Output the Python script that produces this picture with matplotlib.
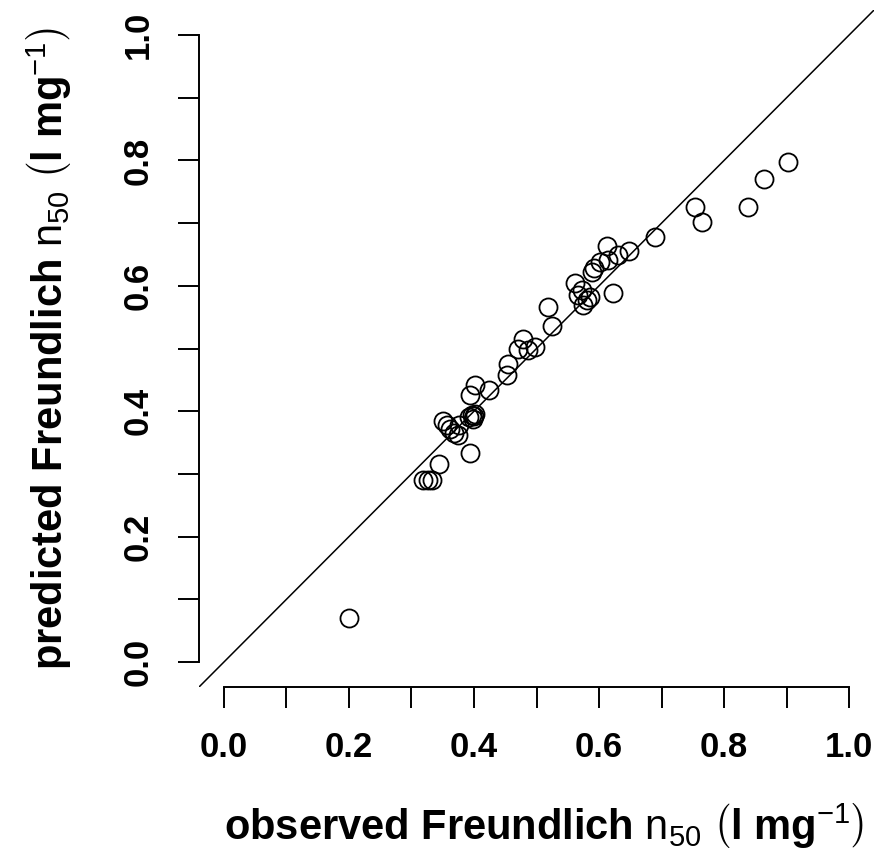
import numpy as np
import matplotlib
matplotlib.use("Agg")
import matplotlib.pyplot as plt

observed = [0.200, 0.318, 0.326, 0.332, 0.344, 0.394, 0.350, 0.356, 0.362, 0.368,
            0.374, 0.376, 0.392, 0.396, 0.400, 0.398, 0.402, 0.394, 0.402, 0.424,
            0.452, 0.454, 0.470, 0.478, 0.486, 0.498, 0.518, 0.524, 0.562, 0.566,
            0.572, 0.574, 0.580, 0.586, 0.588, 0.592, 0.602, 0.612, 0.614, 0.622,
            0.630, 0.648, 0.690, 0.754, 0.765, 0.838, 0.864, 0.902]
predicted = [0.070, 0.290, 0.291, 0.290, 0.316, 0.333, 0.384, 0.378, 0.372, 0.366,
             0.362, 0.378, 0.390, 0.394, 0.392, 0.388, 0.396, 0.426, 0.442, 0.434,
             0.458, 0.476, 0.500, 0.516, 0.498, 0.502, 0.566, 0.536, 0.604, 0.585,
             0.594, 0.570, 0.578, 0.582, 0.622, 0.628, 0.638, 0.664, 0.642, 0.588,
             0.650, 0.656, 0.678, 0.726, 0.702, 0.726, 0.770, 0.797]

tick_pos = np.round(np.arange(0, 1.01, 0.1), 1)
tick_lab = ['0.0', '', '0.2', '', '0.4', '', '0.6', '', '0.8', '', '1.0']

plt.rcParams['font.family'] = ['Liberation Sans', 'DejaVu Sans']
plt.rcParams['mathtext.fontset'] = 'custom'
plt.rcParams['mathtext.rm'] = 'Liberation Sans'
plt.rcParams['mathtext.bf'] = 'Liberation Sans:bold'
plt.rcParams['mathtext.it'] = 'Liberation Sans:italic'

fig = plt.figure(figsize=(8.77, 8.59), dpi=100)
ax = fig.add_axes([0.2269, 0.2002, 0.7697, 0.7881])

ax.plot(observed, predicted, 'o', ms=13, mfc='none', mec='black', mew=1.3)
ax.axline((0, 0), (1, 1), color='black', lw=1.1)

ax.set_xlim(-0.04, 1.04)
ax.set_ylim(-0.04, 1.04)

for s in ['top', 'right']:
    ax.spines[s].set_visible(False)
for s in ['left', 'bottom']:
    ax.spines[s].set_bounds(0, 1)
    ax.spines[s].set_linewidth(1.4)

ax.set_xticks(tick_pos)
ax.set_xticklabels(tick_lab, fontweight='bold', fontsize=25)
ax.set_yticks(tick_pos)
ax.set_yticklabels(tick_lab, fontweight='bold', fontsize=25, rotation=90, va='center')
ax.tick_params(length=15, width=1.4, pad=17)

ax.set_xlabel(r'$\mathbf{observed\ Freundlich\ }\mathrm{n}_{50}\ \left(\mathbf{l\ mg}^{-1}\right)$',
              fontsize=30, va='center')
ax.set_ylabel(r'$\mathbf{predicted\ Freundlich\ }\mathrm{n}_{50}\ \left(\mathbf{l\ mg}^{-1}\right)$',
              fontsize=30, va='center')
ax.xaxis.set_label_coords(0.511, -0.205)
ax.yaxis.set_label_coords(-0.222, 0.5)

fig.savefig('out.png', dpi=100)
